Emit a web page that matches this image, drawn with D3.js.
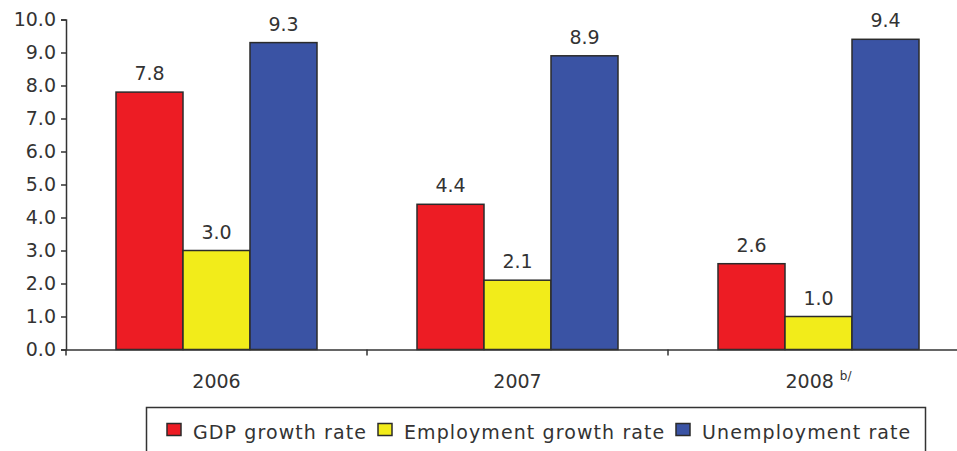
<!DOCTYPE html>
<html><head><meta charset="utf-8">
<script src="https://cdn.jsdelivr.net/npm/d3@7"></script>
<style>body{margin:0;background:#fff}svg{display:block}</style>
</head><body>
<svg id="c" width="957" height="451"></svg>
<script>
const years = ["2006", "2007", "2008"];
const seriesNames = ["GDP growth rate", "Employment growth rate", "Unemployment rate"];
const gdp = [7.8, 4.4, 2.6];
const employment = [3.0, 2.1, 1.0];
const unemployment = [9.3, 8.9, 9.4];
const colors = ["#ED1C24", "#F2EC1A", "#3A53A4"];
const yTicks = [0,1,2,3,4,5,6,7,8,9,10];

const series = [gdp, employment, unemployment];
const svg = d3.select("#c");
const font = "DejaVu Sans, Verdana, sans-serif";
const txt = "#333";
const fs = 19;

const x0 = d3.scaleBand().domain(years).range([66, 969]).paddingInner(0).paddingOuter(0);
const x1 = d3.scaleBand().domain(seriesNames).range([50, 251]);
const y = d3.scaleLinear().domain([0, 10]).range([349.5, 19.5]);

// bars
years.forEach((yr, i) => {
  series.forEach((s, j) => {
    const v = s[i];
    const bx = x0(yr) + x1(seriesNames[j]);
    svg.append("rect")
      .attr("x", bx).attr("y", y(v))
      .attr("width", x1.bandwidth()).attr("height", y(0) - y(v))
      .attr("fill", colors[j]).attr("stroke", "#2b2b2b").attr("stroke-width", 1.5);
    svg.append("text")
      .attr("x", bx + x1.bandwidth()/2).attr("y", y(v) - 12)
      .attr("text-anchor", "middle").attr("font-family", font).attr("font-size", fs)
      .attr("fill", txt).text(v.toFixed(1));
  });
});

// y axis
const ya = svg.append("g").attr("transform", "translate(66,0)")
  .call(d3.axisLeft(y).tickValues(yTicks).tickFormat(d3.format(".1f")).tickSize(5).tickSizeOuter(5));
ya.select(".domain").attr("stroke", "#333").attr("stroke-width", 1.5);
ya.selectAll(".tick line").attr("stroke", "#333").attr("stroke-width", 1.5);
ya.selectAll(".tick text").attr("font-family", font).attr("font-size", fs).attr("fill", txt).attr("x", -10);

// x axis
const xa = svg.append("g").attr("transform", `translate(0,${y(0)})`)
  .call(d3.axisBottom(x0).tickSize(0).tickSizeOuter(0));
xa.select(".domain").attr("stroke", "#333").attr("stroke-width", 1.5);
xa.selectAll(".tick text").attr("font-family", font).attr("font-size", fs).attr("fill", txt).attr("dy", 0).attr("y", 38);
// separator ticks between categories
years.forEach((yr, i) => {
  svg.append("line").attr("x1", x0(yr)).attr("x2", x0(yr))
    .attr("y1", y(0)).attr("y2", y(0) + 6).attr("stroke", "#333").attr("stroke-width", 1.5);
});
// superscript on 2008
xa.selectAll(".tick").filter(d => d === "2008").select("text")
  .append("tspan").attr("dx", 6).attr("dy", -8).attr("font-size", 12).text("b/");

// legend
const lg = svg.append("g");
lg.append("rect").attr("x", 146.5).attr("y", 407.5).attr("width", 779).attr("height", 60)
  .attr("fill", "#fff").attr("stroke", "#333").attr("stroke-width", 1.5);
const legTextX = [193, 404, 702];
seriesNames.forEach((n, j) => {
  lg.append("rect").attr("x", legTextX[j] - 26).attr("y", 423.5).attr("width", 14).attr("height", 12)
    .attr("fill", colors[j]).attr("stroke", "#2b2b2b").attr("stroke-width", 1.5);
  lg.append("text").attr("x", legTextX[j]).attr("y", 439)
    .attr("font-family", font).attr("font-size", fs).attr("letter-spacing", 1.1)
    .attr("fill", txt).text(n);
});
</script>
</body></html>
